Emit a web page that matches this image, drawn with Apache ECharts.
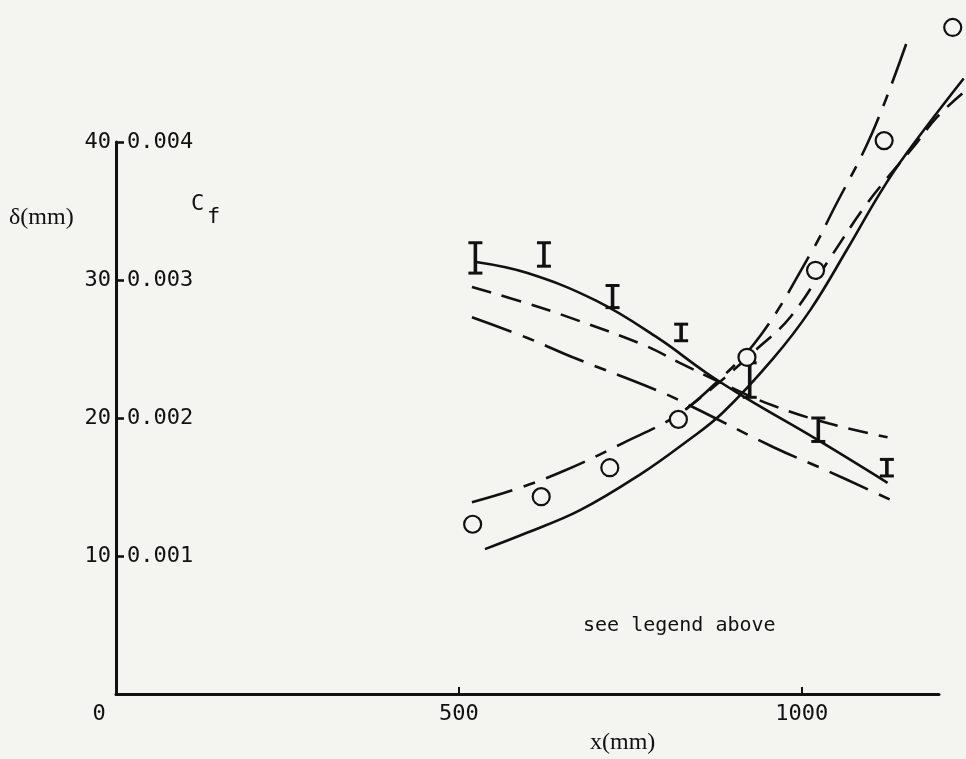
<!DOCTYPE html>
<html>
<head>
<meta charset="utf-8">
<script src="https://cdn.jsdelivr.net/npm/echarts@6/dist/echarts.min.js"></script>
<style>
  html, body { margin: 0; padding: 0; background: #f4f4f1; }
  #chart { width: 966px; height: 759px; }
</style>
</head>
<body>
<div id="chart"></div>
<script>
// Axis ticks and labels
const xLabelValues = [0, 500, 1000];
const xTickValues = [500, 1000];
const deltaTicks = [10, 20, 30, 40];
const cfTicks = [0.001, 0.002, 0.003, 0.004];

// Measured boundary-layer thickness δ (mm) against x (mm)
const deltaMeasured = [
  [520, 12.3], [620, 14.3], [720, 16.4], [820, 19.9],
  [920, 24.4], [1020, 30.7], [1120, 40.1], [1220, 48.3]
];

// Measured skin friction Cf: [x, low, high]
const cfMeasured = [
  [524, 0.00305, 0.00327],
  [624, 0.00310, 0.00327],
  [724, 0.00280, 0.00296],
  [824, 0.00256, 0.00268],
  [924, 0.00215, 0.00240],
  [1024, 0.00183, 0.00200],
  [1124, 0.00158, 0.00170]
];

// Computed Cf curves
const cfSolid = [
  [525, 0.00313], [600, 0.00305], [700, 0.00285], [790, 0.00258],
  [860, 0.00233], [920, 0.00214], [1020, 0.00185], [1125, 0.00153]
];
const cfDashed = [
  [519, 0.00295], [600, 0.00283], [666, 0.00272], [769, 0.00253],
  [822, 0.00240], [880, 0.00226], [958, 0.00209], [1040, 0.00196], [1125, 0.00186]
];
const cfDashDot = [
  [519, 0.00273], [600, 0.00258], [666, 0.00244], [789, 0.00220],
  [841, 0.00208], [958, 0.00179], [1036, 0.00162], [1128, 0.00141]
];

// Computed δ curves
const deltaSolid = [
  [538, 10.5], [600, 11.7], [676, 13.3], [764, 15.9], [832, 18.3], [885, 20.4],
  [958, 24.3], [1012, 27.8], [1067, 32.3], [1114, 36.3], [1153, 39.2], [1236, 44.6]
];
const deltaDashed = [
  [830, 20.6], [880, 22.6], [930, 24.8], [983, 27.3], [1040, 31.5],
  [1090, 35.2], [1128, 37.6], [1162, 39.6], [1197, 41.8], [1236, 43.6]
];
const deltaDashDot = [
  [519, 13.9], [580, 14.8], [650, 16.1], [740, 18.2], [818, 20.2], [876, 22.6],
  [940, 26.0], [1016, 32.2], [1045, 35.0], [1103, 40.7], [1157, 47.8]
];

const INK = '#111111';
const BG = '#f4f4f1';
const MONO = '"DejaVu Sans Mono", "Liberation Mono", monospace';
const SERIF = '"Liberation Serif", "DejaVu Serif", serif';

const DASHED = [20, 11];
const DASH_DOT = [42, 12, 12, 12];

// Plot area: the drawn axes end at x = 1200 mm, while the data layer
// shares the same scale but runs on to the right edge of the page.
const PLOT = { left: 116, top: 142, bottom: 65 };
const AXIS_RIGHT = 27;
const X_MAX = 1200;
const X_MAX_DATA = X_MAX * (966 - PLOT.left) / (966 - PLOT.left - AXIS_RIGHT);

function curve(name, data, axis, type) {
  return {
    name: name,
    type: 'line',
    xAxisIndex: 1,
    yAxisIndex: axis,
    data: data,
    smooth: 0.4,
    symbol: 'none',
    clip: false,
    lineStyle: { color: INK, width: 2.6, type: type, cap: 'butt' },
    z: 2
  };
}

function renderErrorBar(params, api) {
  const x = api.value(0);
  const top = api.coord([x, api.value(2)]);
  const bot = api.coord([x, api.value(1)]);
  const hw = 7;
  const stroke = { stroke: INK, lineWidth: 3 };
  return {
    type: 'group',
    children: [
      { type: 'line', shape: { x1: top[0], y1: top[1], x2: bot[0], y2: bot[1] },
        style: { stroke: INK, lineWidth: 3.6 } },
      { type: 'line', shape: { x1: top[0] - hw, y1: top[1], x2: top[0] + hw, y2: top[1] },
        style: stroke },
      { type: 'line', shape: { x1: bot[0] - hw, y1: bot[1], x2: bot[0] + hw, y2: bot[1] },
        style: stroke }
    ]
  };
}

const hiddenAxis = {
  show: false,
  splitLine: { show: false }
};

const chart = echarts.init(document.getElementById('chart'), null, { renderer: 'canvas' });

chart.setOption({
  backgroundColor: BG,
  animation: false,
  grid: [
    { left: PLOT.left, right: AXIS_RIGHT, top: PLOT.top, bottom: PLOT.bottom },
    { left: PLOT.left, right: 0, top: PLOT.top, bottom: PLOT.bottom }
  ],
  xAxis: [
    {
      type: 'value',
      gridIndex: 0,
      min: 0,
      max: X_MAX,
      interval: 500,
      splitLine: { show: false },
      axisLine: { show: true, lineStyle: { color: INK, width: 3 } },
      axisTick: {
        show: true, inside: true, length: 7, customValues: xTickValues,
        lineStyle: { color: INK, width: 2 }
      },
      axisLabel: {
        customValues: xLabelValues,
        margin: 9,
        color: INK,
        fontFamily: MONO,
        fontSize: 22,
        formatter: v => (v === 0 ? '{o|0}' : String(v)),
        rich: { o: { padding: [0, 34, 0, 0], fontFamily: MONO, fontSize: 22, color: INK } }
      }
    },
    Object.assign({ type: 'value', gridIndex: 1, min: 0, max: X_MAX_DATA }, hiddenAxis)
  ],
  yAxis: [
    {
      type: 'value',
      gridIndex: 0,
      position: 'left',
      min: 0,
      max: 40,
      interval: 10,
      splitLine: { show: false },
      axisLine: { show: true, lineStyle: { color: INK, width: 3 } },
      axisTick: {
        show: true, inside: true, length: 8, customValues: deltaTicks,
        lineStyle: { color: INK, width: 2.6 }
      },
      axisLabel: {
        customValues: deltaTicks,
        margin: 5,
        color: INK,
        fontFamily: MONO,
        fontSize: 22
      }
    },
    {
      type: 'value',
      gridIndex: 0,
      position: 'left',
      min: 0,
      max: 0.004,
      interval: 0.001,
      splitLine: { show: false },
      axisLine: { show: false },
      axisTick: { show: false },
      axisLabel: {
        inside: true,
        customValues: cfTicks,
        margin: 11,
        color: INK,
        fontFamily: MONO,
        fontSize: 22,
        formatter: v => v.toFixed(3)
      }
    },
    Object.assign({ type: 'value', gridIndex: 1, min: 0, max: 40 }, hiddenAxis),
    Object.assign({ type: 'value', gridIndex: 1, min: 0, max: 0.004 }, hiddenAxis)
  ],
  graphic: [
    { type: 'text', left: 9, top: 206,
      style: { text: 'δ(mm)', font: '24px ' + SERIF, fill: INK } },
    { type: 'text', left: 191, top: 193,
      style: { text: 'C', font: '22px ' + MONO, fill: INK } },
    { type: 'text', left: 207, top: 206,
      style: { text: 'f', font: '22px ' + MONO, fill: INK } },
    { type: 'text', left: 590, top: 731,
      style: { text: 'x(mm)', font: '24px ' + SERIF, fill: INK } },
    { type: 'text', left: 583, top: 616,
      style: { text: 'see legend above', font: '20px ' + MONO, fill: INK } }
  ],
  series: [
    curve('Cf solid', cfSolid, 3, 'solid'),
    curve('Cf dashed', cfDashed, 3, DASHED),
    curve('Cf dash-dot', cfDashDot, 3, DASH_DOT),
    curve('δ solid', deltaSolid, 2, 'solid'),
    curve('δ dashed', deltaDashed, 2, DASHED),
    curve('δ dash-dot', deltaDashDot, 2, DASH_DOT),
    {
      name: 'Cf measured',
      type: 'custom',
      xAxisIndex: 1,
      yAxisIndex: 3,
      data: cfMeasured,
      renderItem: renderErrorBar,
      encode: { x: 0, y: [1, 2] },
      clip: false,
      z: 4
    },
    {
      name: 'δ measured',
      type: 'scatter',
      xAxisIndex: 1,
      yAxisIndex: 2,
      data: deltaMeasured,
      symbol: 'circle',
      symbolSize: 17,
      clip: false,
      itemStyle: { color: BG, opacity: 1, borderColor: INK, borderWidth: 2.2 },
      z: 5
    }
  ]
});
</script>
</body>
</html>
